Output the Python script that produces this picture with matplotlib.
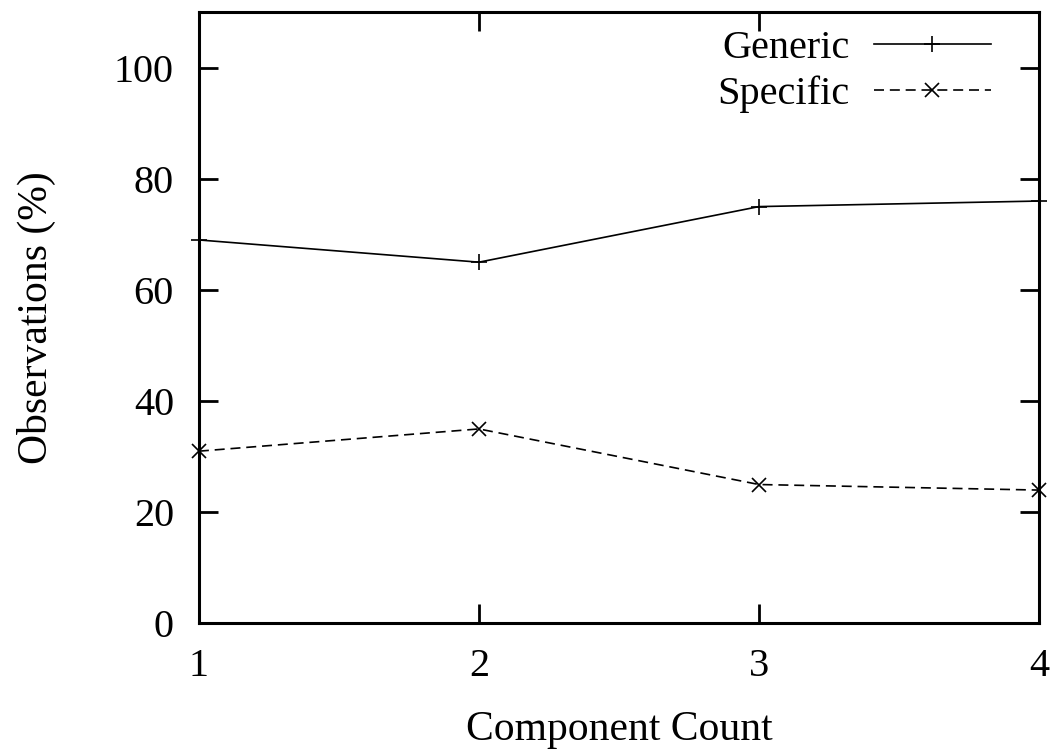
import matplotlib
matplotlib.use("Agg")
import matplotlib.pyplot as plt

component_count = [1, 2, 3, 4]
generic = [69, 65, 75, 76]
specific = [31, 35, 25, 24]

plt.rcParams['font.family'] = ['Liberation Serif', 'DejaVu Serif']

fig = plt.figure(figsize=(10.58, 7.53), dpi=100)
ax = fig.add_axes([0.188, 0.172, 0.794, 0.812])

ax.plot(component_count, generic, color='black', lw=1.2, marker='+', ms=12, mew=1.2,
        label='Generic', clip_on=False)
ax.plot(component_count, specific, color='black', lw=1.2, ls=(0, (6, 3.5)), marker='x', ms=10, mew=1.2,
        label='Specific', clip_on=False)

ax.set_xlim(1, 4)
ax.set_ylim(0, 110)
ax.set_xticks(component_count)
ax.set_yticks([0, 20, 40, 60, 80, 100])
ax.tick_params(direction='in', length=14, width=2, labelsize=29, top=True, right=True, pad=18)
for s in ax.spines.values():
    s.set_linewidth(2.2)

ax.set_xlabel('Component Count', fontsize=30, labelpad=18)
ax.set_ylabel('Observations (%)', fontsize=30, labelpad=42)

ax.legend(loc='upper right', bbox_to_anchor=(1.0, 1.05), frameon=False, fontsize=29,
          markerfirst=False, handlelength=2.9, borderaxespad=0.8, labelspacing=0.2,
          handletextpad=0.6)

fig.savefig('out.png', dpi=100)
